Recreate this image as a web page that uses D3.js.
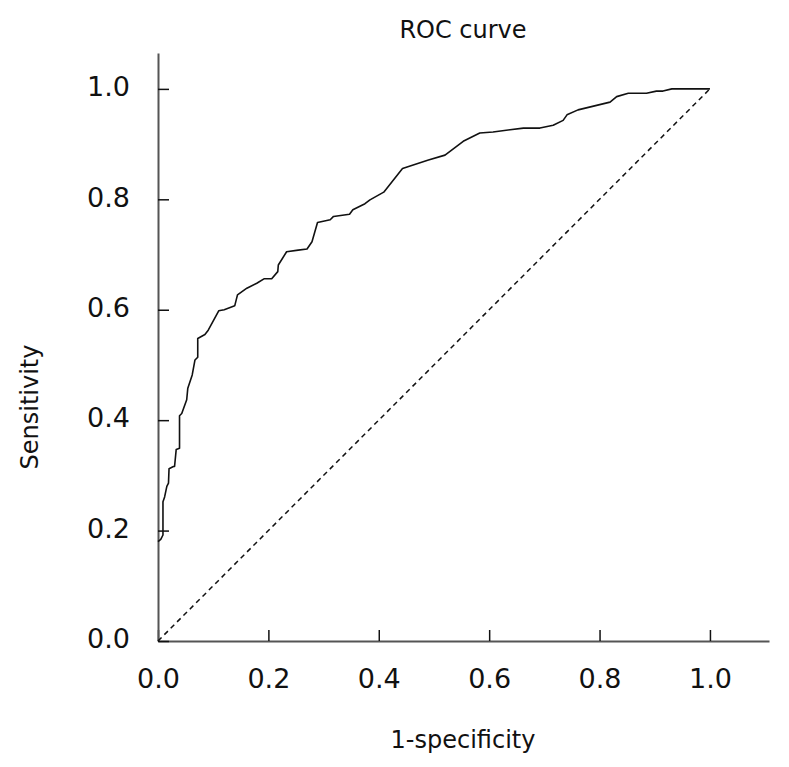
<!DOCTYPE html>
<html>
<head>
<meta charset="utf-8">
<script src="https://cdn.jsdelivr.net/npm/d3@7"></script>
<style>
  body { margin: 0; background: #fff; }
  svg { display: block; }
</style>
</head>
<body>
<svg id="chart" width="789" height="767"></svg>
<script>
const fpr = [0,0.005,0.009,0.009,0.009,0.012,0.016,0.019,0.020,0.028,0.030,0.033,0.039,0.039,0.043,0.052,0.054,0.062,0.067,0.072,0.072,0.085,0.091,0.110,0.120,0.139,0.144,0.161,0.179,0.192,0.206,0.217,0.218,0.233,0.254,0.270,0.279,0.289,0.312,0.318,0.347,0.353,0.375,0.384,0.409,0.443,0.490,0.520,0.553,0.583,0.607,0.662,0.692,0.716,0.734,0.741,0.761,0.819,0.831,0.852,0.885,0.903,0.915,0.931,1.0];
const tpr = [0.180,0.184,0.192,0.201,0.252,0.261,0.280,0.286,0.312,0.316,0.316,0.347,0.349,0.408,0.412,0.437,0.458,0.482,0.509,0.514,0.548,0.555,0.563,0.598,0.600,0.607,0.627,0.639,0.648,0.656,0.656,0.669,0.681,0.705,0.708,0.710,0.723,0.758,0.763,0.769,0.773,0.781,0.792,0.799,0.813,0.856,0.871,0.880,0.905,0.920,0.922,0.929,0.929,0.934,0.943,0.953,0.962,0.976,0.986,0.992,0.992,0.996,0.996,1.0,1.0];
const refLine = [0, 1];
const xTicks = [0, 0.2, 0.4, 0.6, 0.8, 1.0];
const yTicks = [0, 0.2, 0.4, 0.6, 0.8, 1.0];
const title = "ROC curve";
const xLabel = "1-specificity";
const yLabel = "Sensitivity";

const svg = d3.select("#chart");
const font = "'DejaVu Sans', Verdana, sans-serif";

const x = d3.scaleLinear().domain([0, 1.107]).range([158, 769]);
const y = d3.scaleLinear().domain([0, 1.065]).range([641, 53]);

// Axes
const xAxis = d3.axisBottom(x).tickValues(xTicks).tickFormat(d3.format(".1f"))
  .tickSizeInner(-11).tickSizeOuter(0).tickPadding(28);
const yAxis = d3.axisLeft(y).tickValues(yTicks).tickFormat(d3.format(".1f"))
  .tickSizeInner(-11).tickSizeOuter(0).tickPadding(28);

const gx = svg.append("g").attr("transform", "translate(0,641)").call(xAxis);
const gy = svg.append("g").attr("transform", "translate(158,0)").call(yAxis);

[gx, gy].forEach(g => {
  g.select(".domain").attr("stroke", "#555").attr("stroke-width", 2);
  g.selectAll(".tick line").attr("stroke", "#111").attr("stroke-width", 1.5);
  g.selectAll(".tick text").attr("fill", "#111").style("font-family", font).style("font-size", "27px");
});
gy.selectAll(".tick text").attr("dy", "0.25em");

// Reference diagonal
svg.append("line")
  .attr("x1", x(refLine[0])).attr("y1", y(refLine[0]))
  .attr("x2", x(refLine[1])).attr("y2", y(refLine[1]))
  .attr("stroke", "#111").attr("stroke-width", 1.5)
  .attr("stroke-dasharray", "5,4");

// ROC curve
const pts = fpr.map((d, i) => [d, tpr[i]]);
const line = d3.line().x(d => x(d[0])).y(d => y(d[1]));
svg.append("path").datum(pts)
  .attr("d", line)
  .attr("fill", "none")
  .attr("stroke", "#111")
  .attr("stroke-width", 1.6)
  .attr("stroke-linejoin", "round");

// Titles
svg.append("text").attr("x", 463).attr("y", 38).attr("text-anchor", "middle")
  .style("font-family", font).style("font-size", "24px").attr("fill", "#111").text(title);
svg.append("text").attr("x", 463).attr("y", 748).attr("text-anchor", "middle")
  .style("font-family", font).style("font-size", "24px").attr("fill", "#111").text(xLabel);
svg.append("text").attr("transform", "translate(38,407) rotate(-90)").attr("text-anchor", "middle")
  .style("font-family", font).style("font-size", "24px").attr("fill", "#111").text(yLabel);
</script>
</body>
</html>
